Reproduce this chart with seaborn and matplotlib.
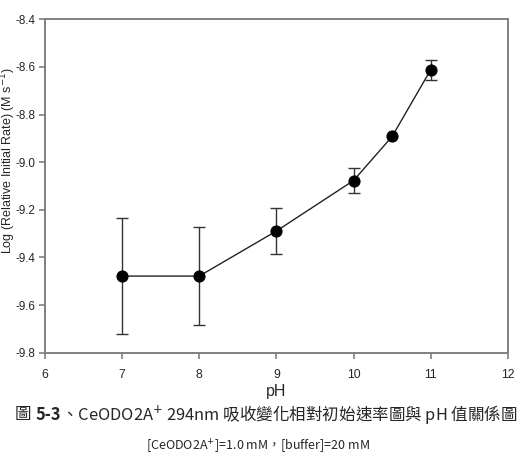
import numpy as np
import pandas as pd
import matplotlib
matplotlib.use("Agg")
import matplotlib.pyplot as plt
import seaborn as sns

ph = [7, 8, 9, 10, 10.5, 11]
log_rate = [-9.478, -9.478, -9.289, -9.077, -8.892, -8.612]
err = [0.243, 0.205, 0.098, 0.052, 0.0, 0.042]

x_ticks = [6, 7, 8, 9, 10, 11, 12]
y_ticks = [-9.8, -9.6, -9.4, -9.2, -9.0, -8.8, -8.6, -8.4]

df = pd.DataFrame({"pH": ph, "rate": log_rate, "err": err})

sns.set_style("ticks")
plt.rcParams["font.family"] = ["Liberation Sans", "DejaVu Sans"]

fig = plt.figure(figsize=(5.22, 4.57), dpi=100)
ax = fig.add_axes([0.086, 0.228, 0.887, 0.730])

# error bars first, then the line with markers on top
eb = df[df["err"] > 0]
ax.errorbar(eb["pH"], eb["rate"], yerr=eb["err"], fmt="none",
            ecolor="#333333", elinewidth=1.0, capsize=4, capthick=1.0)

sns.lineplot(data=df, x="pH", y="rate", ax=ax, color="#222222",
             linewidth=1.0, marker="o", markersize=8,
             markerfacecolor="black", markeredgecolor="black")

ax.set_xlim(6, 12)
ax.set_ylim(-9.8, -8.4)
ax.set_xticks(x_ticks)
ax.set_xticklabels([str(t) for t in x_ticks])
ax.set_yticks(y_ticks)
ax.set_yticklabels([f"{t:.1f}" for t in y_ticks])
ax.tick_params(axis="both", labelsize=8.8, length=4, width=1.2,
               color="#808080", direction="out", pad=2.5)
ax.tick_params(axis="y", labelsize=8.4)
ax.tick_params(axis="x", pad=8)

for s in ax.spines.values():
    s.set_color("#808080")
    s.set_linewidth(1.4)

ax.set_xlabel("pH", fontsize=11.5, labelpad=2)
ax.set_ylabel("")
fig.text(0.0155, 0.648, "Log (Relative Initial Rate) (M s$^{-1}$)",
         rotation=90, ha="center", va="center", fontsize=9)

# caption (two lines, first with bold figure number)
fig.canvas.draw()
renderer = fig.canvas.get_renderer()
cap_font = ["Noto Sans CJK TC", "DejaVu Sans"]
parts = [
    ("圖 ", "normal"),
    ("5-3", "bold"),
    ("、CeODO2A$^{+}$ 294nm 吸收變化相對初始速率圖與 pH 值關係圖", "normal"),
]
x = 15
y = 457 - 415
for txt, w in parts:
    t = fig.text(x / 522, y / 457, txt, fontsize=11.9, fontweight=w,
                 family=cap_font, va="center", ha="left")
    bb = t.get_window_extent(renderer)
    x += bb.width

fig.text(258 / 522, (457 - 447) / 457, "[CeODO2A$^{+}$]=1.0 mM，[buffer]=20 mM",
         fontsize=9, family=cap_font, ha="center", va="center")

fig.savefig("out.png", dpi=100)
